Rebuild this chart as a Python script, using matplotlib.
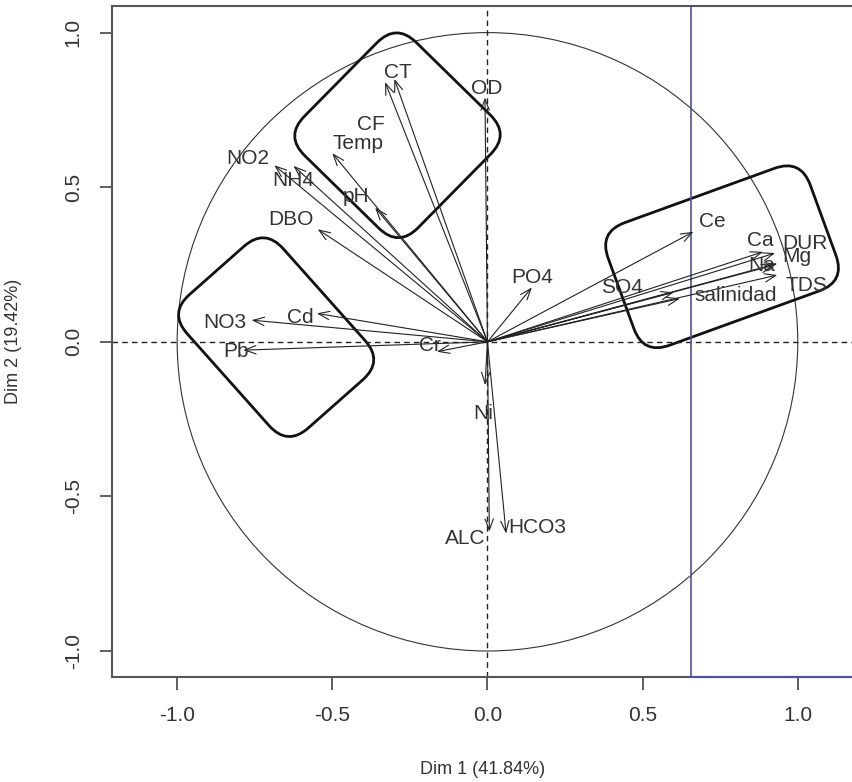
import numpy as np
import matplotlib
matplotlib.use('Agg')
import matplotlib.pyplot as plt
from matplotlib.patches import FancyBboxPatch, Circle
from matplotlib.transforms import Affine2D

plt.rcParams['font.family'] = ['Liberation Sans', 'DejaVu Sans']

# variable coordinates on Dim 1 / Dim 2
variables = ['CT', 'CF', 'OD', 'Temp', 'NO2', 'NH4', 'pH', 'DBO', 'NO3', 'Cd', 'Pb',
             'Cr', 'Ni', 'ALC', 'HCO3', 'PO4', 'Ce', 'Ca', 'DUR', 'Mg', 'Na', 'TDS',
             'SO4', 'salinidad']
dim1 = [-0.30, -0.33, -0.008, -0.50, -0.687, -0.625, -0.362, -0.547, -0.760, -0.550, -0.787,
        -0.163, -0.008, 0.006, 0.060, 0.143, 0.664, 0.888, 0.927, 0.934, 0.924, 0.934,
        0.60, 0.62]
dim2 = [0.85, 0.84, 0.79, 0.61, 0.571, 0.569, 0.434, 0.364, 0.070, 0.092, -0.027,
        -0.032, -0.14, -0.614, -0.62, 0.176, 0.356, 0.291, 0.287, 0.253, 0.248, 0.216,
        0.16, 0.14]
# label anchor positions
label_x = [-0.289, -0.375, -0.001, -0.417, -0.772, -0.626, -0.424, -0.633, -0.846, -0.604, -0.810,
           -0.185, -0.015, -0.072, 0.160, 0.144, 0.724, 0.878, 1.023, 0.998, 0.885, 1.027,
           0.434, 0.801]
label_y = [0.872, 0.704, 0.820, 0.642, 0.594, 0.523, 0.471, 0.394, 0.064, 0.080, -0.030,
           -0.013, -0.231, -0.635, -0.599, 0.209, 0.390, 0.329, 0.318, 0.276, 0.248, 0.183,
           0.177, 0.151]

# highlighted groups: centre x, centre y, width, height, angle
group_cx = [-0.29, -0.681, 0.756]
group_cy = [0.668, 0.015, 0.275]
group_w = [0.513, 0.414, 0.693]
group_h = [0.514, 0.577, 0.422]
group_angle = [45.5, 41.6, 20.0]

fig = plt.figure(figsize=(8.53, 7.82), dpi=100)
ax = fig.add_axes([0.1313, 0.1347, 0.8687, 0.8576])
ax.set_xlim(-1.21, 1.178)
ax.set_ylim(-1.083, 1.086)

ax.add_patch(Circle((0, 0), 1, fill=False, color='#333333', lw=0.8))
ax.axhline(0, color='#222222', ls=(0, (4, 3)), lw=1)
ax.axvline(0, color='#222222', ls=(0, (4, 3)), lw=1)

for name, x, y, lx, ly in zip(variables, dim1, dim2, label_x, label_y):
    ax.annotate('', xy=(x, y), xytext=(0, 0),
                arrowprops=dict(arrowstyle='->,head_length=0.8,head_width=0.3',
                                lw=0.8, color='#222222', shrinkA=0, shrinkB=0))
    ax.text(lx, ly, name, fontsize=15, color='#333333', ha='center', va='center')

for cx, cy, w, h, ang in zip(group_cx, group_cy, group_w, group_h, group_angle):
    box = FancyBboxPatch((-w / 2, -h / 2), w, h,
                         boxstyle='round,pad=0,rounding_size=0.09',
                         fill=False, ec='#111111', lw=2)
    box.set_transform(Affine2D().rotate_deg(ang).translate(cx, cy) + ax.transData)
    ax.add_patch(box)

ax.axvline(0.656, color='#5050a8', lw=1.2)
ax.plot([0.656, 1.178], [-1.083, -1.083], color='#5050a8', lw=1.5, clip_on=False, zorder=5)

ax.spines['right'].set_visible(False)
for s in ['left', 'top', 'bottom']:
    ax.spines[s].set_color('#555555')
    ax.spines[s].set_linewidth(1.5)

ax.set_xticks([-1.0, -0.5, 0.0, 0.5, 1.0])
ax.set_xticklabels(['-1.0', '-0.5', '0.0', '0.5', '1.0'])
ax.set_yticks([-1.0, -0.5, 0.0, 0.5, 1.0])
ax.set_yticklabels(['-1.0', '-0.5', '0.0', '0.5', '1.0'], rotation=90, va='center')
ax.tick_params(direction='out', length=9, width=1.2, color='#444444',
               labelsize=15, labelcolor='#333333', pad=12)

ax.set_xlabel('Dim 1 (41.84%)', fontsize=13, color='#333333', labelpad=26)
ax.set_ylabel('Dim 2 (19.42%)', fontsize=13, color='#333333', labelpad=30)

fig.savefig('out.png', dpi=100)
